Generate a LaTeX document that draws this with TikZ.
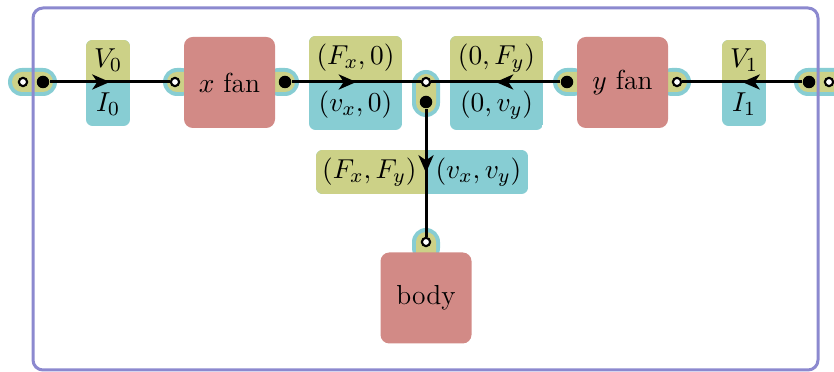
\documentclass[tikz,border=0pt]{standalone}
\usetikzlibrary{decorations.markings,arrows.meta}
\definecolor{boxred}{HTML}{D28A86}
\definecolor{olv}{HTML}{CCD187}
\definecolor{tel}{HTML}{87CDD3}
\definecolor{frm}{HTML}{8C89CF}
\tikzset{
  opencirc/.style={circle,draw=black,fill=white,line width=0.85pt,inner sep=0pt,minimum size=3.3pt},
  dotc/.style={circle,fill=black,inner sep=0pt,minimum size=5pt},
  wire/.style={line width=1.2pt,postaction={decorate},decoration={markings,mark=at position 0.5 with {\arrow{Stealth[length=7pt,width=6pt,inset=2pt]}}}},
  fanbox/.style={fill=boxred,rounded corners=3.5pt},
  lbl/.style={inner sep=0pt},
  outerpill/.style={fill=tel},
  innerpill/.style={fill=olv},
}
\begin{document}
\begin{tikzpicture}[x=0.4pt,y=-0.4pt,font=\fontsize{11}{13}\selectfont]
\useasboundingbox (0,0) rectangle (834,372);
\clip (0,0) rectangle (834,372);
% port pills
\fill[outerpill,rounded corners=5.6pt] (8,68) rectangle (57,96);
\fill[innerpill,rounded corners=4pt] (12,72) rectangle (53,92);
\fill[outerpill,rounded corners=5.6pt] (163,68) rectangle (195,96);
\fill[innerpill,rounded corners=4pt] (167,72) rectangle (195,92);
\fill[outerpill,rounded corners=5.6pt] (265,68) rectangle (299,96);
\fill[innerpill,rounded corners=4pt] (265,72) rectangle (295,92);
\fill[outerpill,rounded corners=5.6pt] (553,68) rectangle (587,96);
\fill[innerpill,rounded corners=4pt] (557,72) rectangle (587,92);
\fill[outerpill,rounded corners=5.6pt] (658,68) rectangle (691,96);
\fill[innerpill,rounded corners=4pt] (658,72) rectangle (687,92);
\fill[outerpill,rounded corners=5.6pt] (412,70) rectangle (440,117);
\fill[innerpill,rounded corners=4pt] (416,74) rectangle (436,113);
\fill[outerpill,rounded corners=5.6pt] (412,228) rectangle (440,262);
\fill[innerpill,rounded corners=4pt] (416,232) rectangle (436,262);
\fill[outerpill,rounded corners=5.6pt] (794,68) rectangle (860,96);
\fill[innerpill,rounded corners=4pt] (798,72) rectangle (856,92);
% frame
\draw[frm,line width=1.2pt,rounded corners=4pt] (33,8) rectangle (818,370);
% boxes
\node[fanbox,minimum width=36.4pt,minimum height=36.4pt] (xfan) at (229.5,82.5) {$x$ fan};
\node[fanbox,minimum width=36.4pt,minimum height=36.4pt] (yfan) at (622.5,82.5) {$y$ fan};
\node[fanbox,minimum width=36.4pt,minimum height=36.4pt] (body) at (426,298) {body};
% label boxes
\begin{scope}
\clip[rounded corners=2.6pt] (86,40) rectangle (130,126);
\fill[tel] (86,40) rectangle (130,126);
\fill[olv] (86,40) rectangle (130,82);
\end{scope}
\begin{scope}
\clip[rounded corners=2.6pt] (309,36) rectangle (402,130);
\fill[tel] (309,36) rectangle (402,130);
\fill[olv] (309,36) rectangle (402,82);
\end{scope}
\begin{scope}
\clip[rounded corners=2.6pt] (450,36) rectangle (543,130);
\fill[tel] (450,36) rectangle (543,130);
\fill[olv] (450,36) rectangle (543,82);
\end{scope}
\begin{scope}
\clip[rounded corners=2.6pt] (722,40) rectangle (766,126);
\fill[tel] (722,40) rectangle (766,126);
\fill[olv] (722,40) rectangle (766,82);
\end{scope}
\begin{scope}
\clip[rounded corners=2.6pt] (316,150) rectangle (528,194);
\fill[tel] (316,150) rectangle (528,194);
\fill[olv] (316,150) rectangle (426,194);
\end{scope}
% label texts
\node[lbl] (v0) at (108,60) {$V_0$};
\node[lbl] (i0) at (108,104) {$I_0$};
\node[lbl] (fx0) at (355.5,58) {$(F_x,0)$};
\node[lbl] (vx0) at (355.5,105) {$(v_x,0)$};
\node[lbl] (f0y) at (496.5,58) {$(0,F_y)$};
\node[lbl] (v0y) at (496.5,105) {$(0,v_y)$};
\node[lbl] (v1) at (744,60) {$V_1$};
\node[lbl] (i1) at (744,104) {$I_1$};
\node[lbl,anchor=east] (fxfy) at (417,172) {$(F_x,F_y)$};
\node[lbl,anchor=west] (vxvy) at (435,172) {$(v_x,v_y)$};
% port circles
\node[opencirc] (lo) at (23,82) {};
\node[dotc] (ld) at (43,82) {};
\node[opencirc] (xin) at (175,82) {};
\node[dotc] (xout) at (285,82) {};
\node[opencirc] (jo) at (426,82) {};
\node[dotc] (jd) at (426,102) {};
\node[dotc] (yin) at (567,82) {};
\node[opencirc] (yout) at (677,82) {};
\node[dotc] (rd) at (809,82) {};
\node[opencirc] (ro) at (829,82) {};
\node[opencirc] (bin) at (426,242) {};
% wires
\draw[wire] (ld) -- (xin);
\draw[wire] (xout) -- (jo);
\draw[wire] (yin) -- (jo);
\draw[wire] (rd) -- (yout);
\draw[wire] (jd) -- (bin);
\end{tikzpicture}
\end{document}
